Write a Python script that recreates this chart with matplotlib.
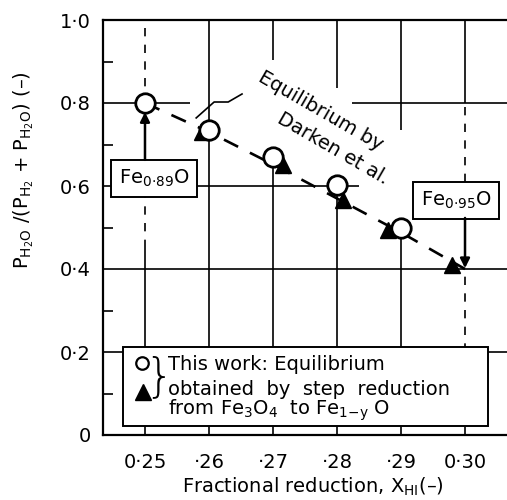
import matplotlib
matplotlib.use('Agg')
import matplotlib.pyplot as plt
from matplotlib.patches import Rectangle

plt.rcParams['font.family'] = ['DejaVu Sans']
plt.rcParams['mathtext.default'] = 'regular'

# data
x_work = [0.25, 0.26, 0.27, 0.28, 0.29]
y_work = [0.800, 0.735, 0.670, 0.602, 0.499]
x_step = [0.2589, 0.2716, 0.2809, 0.2880, 0.2980]
y_step = [0.730, 0.651, 0.566, 0.494, 0.410]
x_darken = [0.25, 0.26, 0.27, 0.28, 0.29, 0.30]
y_darken = [0.800, 0.730, 0.652, 0.570, 0.488, 0.400]

x_ticks = [0.25, 0.26, 0.27, 0.28, 0.29, 0.30]
x_ticklabels = ['0·25', '·26', '·27', '·28', '·29', '0·30']
y_ticks = [0.0, 0.2, 0.4, 0.6, 0.8, 1.0]
y_ticklabels = ['0', '0·2', '0·4', '0·6', '0·8', '1·0']
y_minor = [0.1, 0.3, 0.5, 0.7, 0.9]

fig = plt.figure(figsize=(5.07, 5.00), dpi=100)
ax = fig.add_axes([103 / 507, 65 / 500, 404 / 507, 415 / 500])
x0, x1 = 0.24344, 0.30656
ax.set_xlim(x0, x1)
ax.set_ylim(0, 1)

# hand drawn style grid, broken where the labels sit
glw = 1.2
ax.hlines([0.2, 0.4], x0, x1, colors='k', lw=glw, zorder=1)
ax.hlines(0.6, x0, 0.2835, colors='k', lw=glw, zorder=1)
ax.hlines(0.8, x0, 0.2570, colors='k', lw=glw, zorder=1)
ax.hlines(0.8, 0.2823, x1, colors='k', lw=glw, zorder=1)
ax.vlines(0.26, 0, 1, colors='k', lw=glw, zorder=1)
ax.vlines([0.27, 0.28, 0.29], [0.904, 0.836, 0.735], 1, colors='k', lw=glw, zorder=1)
ax.vlines([0.27, 0.28, 0.29], 0, [0.67, 0.60, 0.50], colors='k', lw=glw, zorder=1)
ax.vlines(0.30, 0.8, 1, colors='k', lw=glw, zorder=1)
for ya, yb in [(0.8, 1.0), (0.45, 0.58)]:
    ax.plot([0.25, 0.25], [ya, yb], color='k', lw=glw, dashes=(5, 5), zorder=1)
ax.vlines(0.25, 0, 0.45, colors='k', lw=glw, zorder=1)
for ya, yb in [(0.61, 0.8), (0.0, 0.40)]:
    ax.plot([0.30, 0.30], [ya, yb], color='k', lw=glw, dashes=(5, 5), zorder=1)

# Darken equilibrium line
ax.plot(x_darken, y_darken, color='k', lw=1.9, dashes=(6, 5), zorder=2)
# step reduction points
ax.plot(x_step, y_step, ls='none', marker='^', ms=11, color='k', zorder=3)
# this work
ax.plot(x_work, y_work, ls='none', marker='o', ms=14, mfc='white', mec='k',
        mew=2.0, zorder=4)

# label for Darken line with leader
ax.text(0.2775, 0.7807, 'Equilibrium by', rotation=-30, fontsize=14,
        ha='center', va='center', rotation_mode='anchor', zorder=5)
ax.text(0.27938, 0.689, 'Darken et al.', rotation=-30, fontsize=14,
        ha='center', va='center', rotation_mode='anchor', zorder=5)
ax.plot([0.26516, 0.2630, 0.2608, 0.2580], [0.8217, 0.8024, 0.8024, 0.764],
        color='k', lw=1.2, zorder=5)

# composition boxes with arrows
box = dict(boxstyle='square,pad=0.4', fc='white', ec='k', lw=1.4)
ax.text(0.2514, 0.619, 'Fe$_{0·89}$O', fontsize=14, ha='center', va='center',
        bbox=box, zorder=6)
ax.text(0.2986, 0.566, 'Fe$_{0·95}$O', fontsize=14, ha='center', va='center',
        bbox=box, zorder=6)
arw = dict(arrowstyle='-|>', color='k', lw=1.8, mutation_scale=14,
           shrinkA=0, shrinkB=0)
ax.annotate('', xy=(0.25, 0.778), xytext=(0.25, 0.663), arrowprops=arw, zorder=6)
ax.annotate('', xy=(0.30, 0.402), xytext=(0.30, 0.523), arrowprops=arw, zorder=6)

# legend box
ax.add_patch(Rectangle((0.0495, 0.0217), 0.9035, 0.1903, transform=ax.transAxes,
                       fc='white', ec='k', lw=1.4, zorder=6))
ax.plot([0.0965], [0.1735], transform=ax.transAxes, marker='o', ms=9, mfc='white',
        mec='k', mew=1.6, clip_on=False, zorder=7)
ax.plot([0.099], [0.1036], transform=ax.transAxes, marker='^', ms=11, color='k',
        clip_on=False, zorder=7)
ax.text(0.137, 0.140, '}', transform=ax.transAxes, fontsize=33, ha='center',
        va='center', fontweight='light', zorder=7)
ax.text(0.161, 0.157, 'This work: Equilibrium', transform=ax.transAxes,
        fontsize=14, va='baseline', zorder=7)
ax.text(0.161, 0.0964, 'obtained  by  step  reduction', transform=ax.transAxes,
        fontsize=14, va='baseline', zorder=7)
ax.text(0.161, 0.048, 'from Fe$_3$O$_4$  to Fe$_{1{-}y}$ O', transform=ax.transAxes,
        fontsize=14, va='baseline', zorder=7)

# axes
ax.set_xticks(x_ticks)
ax.set_xticklabels(x_ticklabels, fontsize=14)
ax.set_yticks(y_ticks)
ax.set_yticklabels(y_ticklabels, fontsize=14)
ax.set_yticks(y_minor, minor=True)
ax.tick_params(axis='both', which='major', length=0)
ax.tick_params(axis='x', which='major', pad=13)
ax.tick_params(axis='y', which='major', pad=9)
ax.tick_params(axis='y', which='minor', direction='in', length=7, width=1.2)
for side in ['left', 'bottom', 'top']:
    ax.spines[side].set_linewidth(1.6)
ax.spines['right'].set_visible(False)

ax.text(-0.196, 0.639, '$P_{H_2O}$ /($P_{H_2}$ + $P_{H_2O}$) (–)', transform=ax.transAxes,
        rotation=90, fontsize=14, ha='center', va='center')
ax.text(0.52, -0.125, 'Fractional reduction, X$_{HI}$(–)', transform=ax.transAxes,
        fontsize=14, ha='center', va='center')

fig.savefig('out.png', dpi=100)
